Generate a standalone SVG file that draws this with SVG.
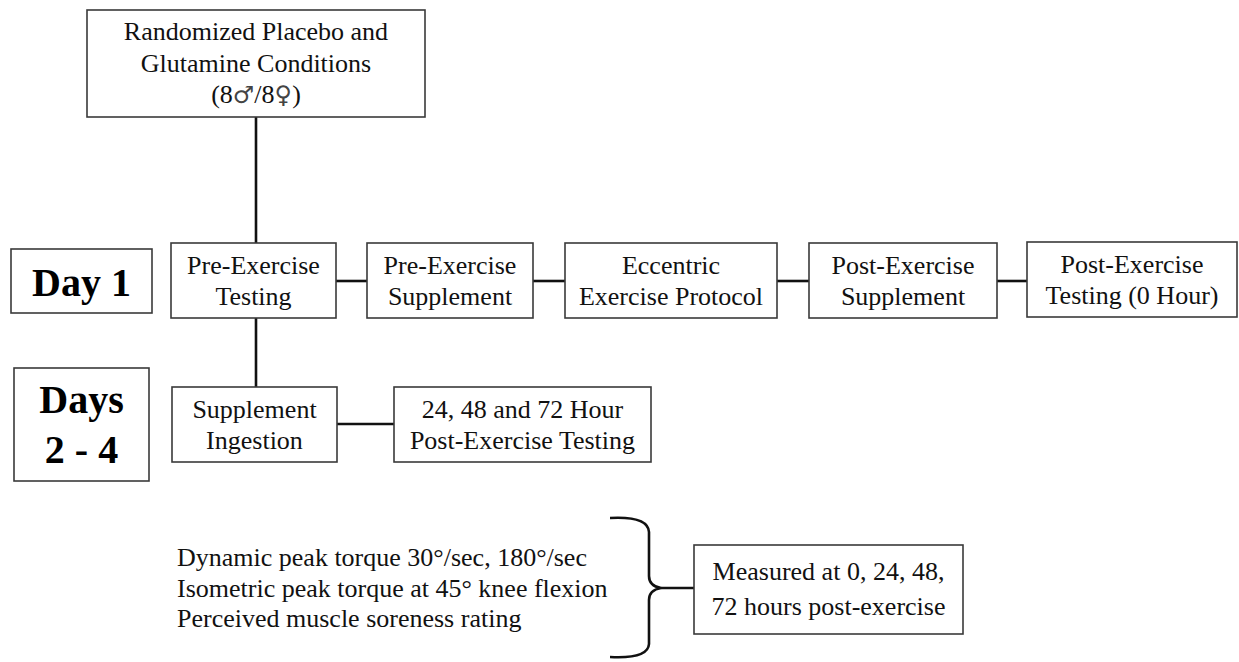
<svg xmlns="http://www.w3.org/2000/svg" width="1239" height="662" viewBox="0 0 1239 662">
<style>
.box{fill:#fff;stroke:#3a3a3a;stroke-width:1.6}
.t{font-family:"Liberation Serif","DejaVu Serif",serif;font-size:26px;fill:#111;text-anchor:middle}
.tl{font-family:"Liberation Serif","DejaVu Serif",serif;font-size:26px;fill:#111}
.sym{font-family:"DejaVu Sans","Noto Sans",sans-serif;font-size:24px;fill:#444}
.b{font-family:"Liberation Serif","DejaVu Serif",serif;font-size:40px;font-weight:bold;fill:#000;text-anchor:middle}
.c{stroke:#111;stroke-width:2.6;fill:none}
</style>
<rect width="1239" height="662" fill="#fff"/>
<g id="connectors">
<line class="c" x1="256" y1="117" x2="256" y2="243"/>
<line class="c" x1="256" y1="318" x2="256" y2="387"/>
<line class="c" x1="336" y1="281" x2="367" y2="281"/>
<line class="c" x1="533" y1="281" x2="565" y2="281"/>
<line class="c" x1="777" y1="281" x2="809" y2="281"/>
<line class="c" x1="997" y1="281" x2="1027" y2="281"/>
<line class="c" x1="337" y1="424" x2="394" y2="424"/>
<path class="c" stroke-width="2" d="M610,518 Q648,516 649,532 L649,576 Q649,586 661,588 Q649,590 649,600 L649,644 Q648,659 610,657"/>
<line class="c" stroke-width="2" x1="661" y1="588" x2="694" y2="588"/>
</g>
<g id="randomized">
<rect class="box" x="87" y="10" width="338" height="107"/>
<text class="t" x="256" y="40">Randomized Placebo and</text>
<text class="t" x="256" y="72">Glutamine Conditions</text>
<text class="t" x="256" y="103">(8<tspan class="sym">♂</tspan>/8<tspan class="sym">♀</tspan>)</text>
</g>
<g id="day1">
<rect class="box" x="11" y="249" width="141" height="64"/>
<text class="b" x="81.5" y="296">Day 1</text>
</g>
<g id="days24">
<rect class="box" x="14" y="368" width="135" height="113"/>
<text class="b" x="81.5" y="413">Days</text>
<text class="b" x="81.5" y="463">2 - 4</text>
</g>
<g id="preTesting">
<rect class="box" x="171" y="243" width="165" height="75"/>
<text class="t" x="253.5" y="274">Pre-Exercise</text>
<text class="t" x="253.5" y="305">Testing</text>
</g>
<g id="preSupplement">
<rect class="box" x="367" y="243" width="166" height="75"/>
<text class="t" x="450" y="274">Pre-Exercise</text>
<text class="t" x="450" y="305">Supplement</text>
</g>
<g id="eccentric">
<rect class="box" x="565" y="243" width="212" height="75"/>
<text class="t" x="671" y="274">Eccentric</text>
<text class="t" x="671" y="305">Exercise Protocol</text>
</g>
<g id="postSupplement">
<rect class="box" x="809" y="243" width="188" height="75"/>
<text class="t" x="903" y="274">Post-Exercise</text>
<text class="t" x="903" y="305">Supplement</text>
</g>
<g id="postTesting">
<rect class="box" x="1027" y="242" width="210" height="75"/>
<text class="t" x="1132" y="273">Post-Exercise</text>
<text class="t" x="1132" y="304">Testing (0 Hour)</text>
</g>
<g id="ingestion">
<rect class="box" x="172" y="387" width="165" height="75"/>
<text class="t" x="254.5" y="418">Supplement</text>
<text class="t" x="254.5" y="449">Ingestion</text>
</g>
<g id="later">
<rect class="box" x="394" y="387" width="257" height="75"/>
<text class="t" x="522.5" y="418">24, 48 and 72 Hour</text>
<text class="t" x="522.5" y="449">Post-Exercise Testing</text>
</g>
<g id="measures">
<text class="tl" x="177" y="566">Dynamic peak torque 30°/sec, 180°/sec</text>
<text class="tl" x="177" y="597">Isometric peak torque at 45° knee flexion</text>
<text class="tl" x="177" y="627">Perceived muscle soreness rating</text>
</g>
<g id="measured">
<rect class="box" x="694" y="545" width="269" height="89"/>
<text class="t" x="828.5" y="580">Measured at 0, 24, 48,</text>
<text class="t" x="828.5" y="615">72 hours post-exercise</text>
</g>
</svg>
